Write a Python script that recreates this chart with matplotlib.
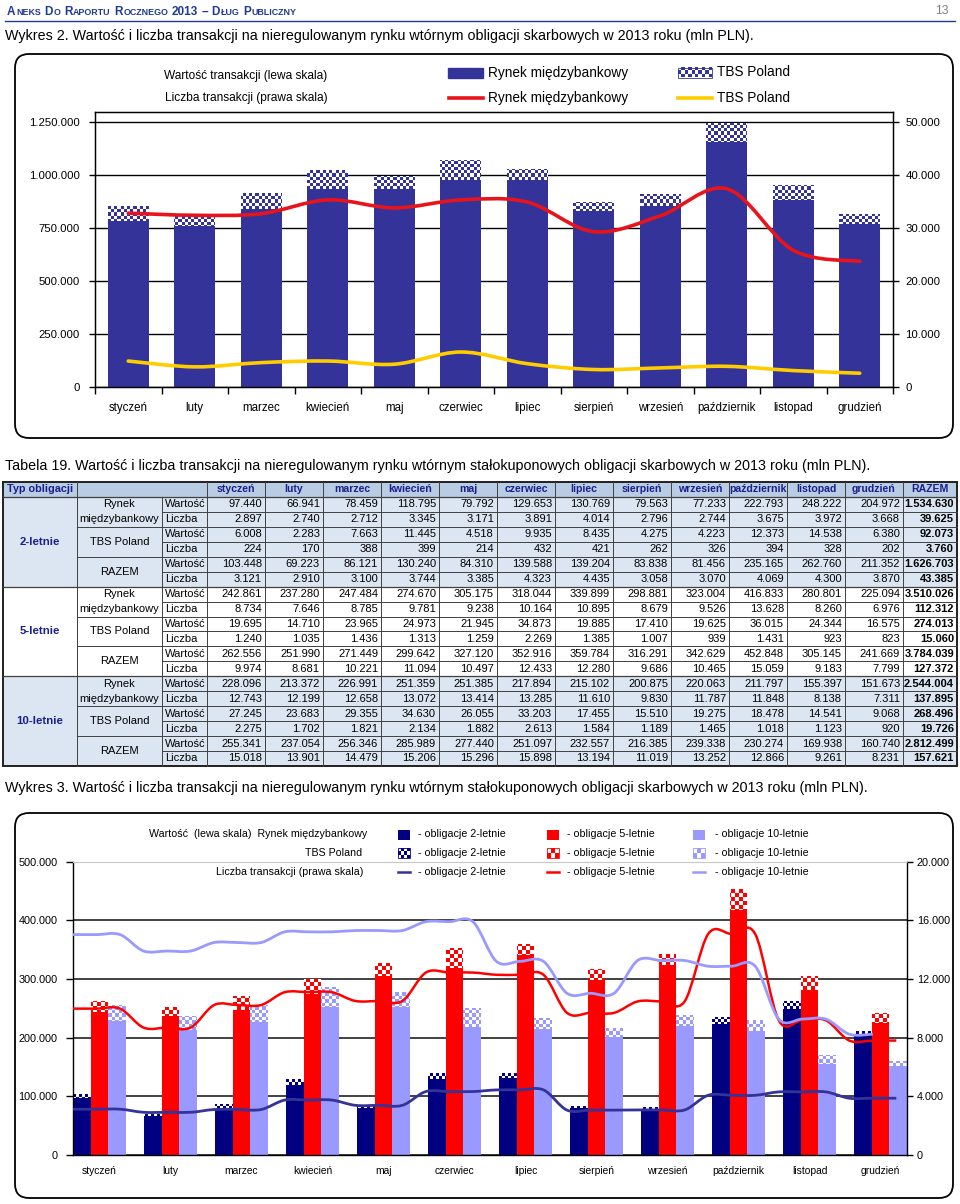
import numpy as np
import matplotlib
matplotlib.use("Agg")
from matplotlib import pyplot as plt
from matplotlib.colors import to_rgb
from matplotlib.patches import Rectangle, FancyBboxPatch, PathPatch
from matplotlib.path import Path
from matplotlib.ticker import FuncFormatter

# --- data -----------------------------------------------------------------
months = ["styczeń", "luty", "marzec", "kwiecień", "maj", "czerwiec", "lipiec",
          "sierpień", "wrzesień", "październik", "listopad", "grudzień"]

# Wykres 2
top_rm = [783000, 759000, 841000, 934000, 934000, 975000, 975000, 829000, 854000, 1154000, 884000, 770000]
top_tbs = [72000, 46000, 73000, 90000, 63000, 96000, 55000, 44000, 55000, 91000, 67000, 48000]
top_rm_cnt = [32800, 32400, 32700, 35300, 33800, 35300, 34900, 29300, 32300, 37400, 25800, 23700]
top_tbs_cnt = [4900, 3800, 4600, 4900, 4300, 6600, 4400, 3300, 3600, 3900, 3100, 2600]

# Tabela 19
rm_w2 = [97440, 66941, 78459, 118795, 79792, 129653, 130769, 79563, 77233, 222793, 248222, 204972]
rm_l2 = [2897, 2740, 2712, 3345, 3171, 3891, 4014, 2796, 2744, 3675, 3972, 3668]
tbs_w2 = [6008, 2283, 7663, 11445, 4518, 9935, 8435, 4275, 4223, 12373, 14538, 6380]
tbs_l2 = [224, 170, 388, 399, 214, 432, 421, 262, 326, 394, 328, 202]
raz_w2 = [103448, 69223, 86121, 130240, 84310, 139588, 139204, 83838, 81456, 235165, 262760, 211352]
raz_l2 = [3121, 2910, 3100, 3744, 3385, 4323, 4435, 3058, 3070, 4069, 4300, 3870]
tot_2 = [1534630, 39625, 92073, 3760, 1626703, 43385]

rm_w5 = [242861, 237280, 247484, 274670, 305175, 318044, 339899, 298881, 323004, 416833, 280801, 225094]
rm_l5 = [8734, 7646, 8785, 9781, 9238, 10164, 10895, 8679, 9526, 13628, 8260, 6976]
tbs_w5 = [19695, 14710, 23965, 24973, 21945, 34873, 19885, 17410, 19625, 36015, 24344, 16575]
tbs_l5 = [1240, 1035, 1436, 1313, 1259, 2269, 1385, 1007, 939, 1431, 923, 823]
raz_w5 = [262556, 251990, 271449, 299642, 327120, 352916, 359784, 316291, 342629, 452848, 305145, 241669]
raz_l5 = [9974, 8681, 10221, 11094, 10497, 12433, 12280, 9686, 10465, 15059, 9183, 7799]
tot_5 = [3510026, 112312, 274013, 15060, 3784039, 127372]

rm_w10 = [228096, 213372, 226991, 251359, 251385, 217894, 215102, 200875, 220063, 211797, 155397, 151673]
rm_l10 = [12743, 12199, 12658, 13072, 13414, 13285, 11610, 9830, 11787, 11848, 8138, 7311]
tbs_w10 = [27245, 23683, 29355, 34630, 26055, 33203, 17455, 15510, 19275, 18478, 14541, 9068]
tbs_l10 = [2275, 1702, 1821, 2134, 1882, 2613, 1584, 1189, 1465, 1018, 1123, 920]
raz_w10 = [255341, 237054, 256346, 285989, 277440, 251097, 232557, 216385, 239338, 230274, 169938, 160740]
raz_l10 = [15018, 13901, 14479, 15206, 15296, 15898, 13194, 11019, 13252, 12866, 9261, 8231]
tot_10 = [2544004, 137895, 268496, 19726, 2812499, 157621]

plt.rcParams["font.family"] = ["Liberation Sans", "DejaVu Sans"]

def thou(v):
    return "{:,}".format(int(round(v))).replace(",", ".")

W, H = 960, 1204
fig = plt.figure(figsize=(W / 100, H / 100), dpi=100)
fig.patch.set_facecolor("white")

page = fig.add_axes([0, 0, 1, 1])
page.axis("off")

def axes_px(l, t, r, b):
    ax = fig.add_axes([l / W, 1 - b / H, (r - l) / W, (b - t) / H])
    ax.patch.set_alpha(0)
    return ax

def smooth(xs, ys, t=1 / 6):
    # Catmull-Rom style smoothing, like the spreadsheet's "smoothed line"
    xs = np.asarray(xs, float)
    ys = np.asarray(ys, float)
    n = len(xs)
    verts = [(xs[0], ys[0])]
    codes = [Path.MOVETO]
    for i in range(n - 1):
        a = max(i - 1, 0)
        d = min(i + 2, n - 1)
        c1 = (xs[i] + (xs[i + 1] - xs[a]) * t, ys[i] + (ys[i + 1] - ys[a]) * t)
        c2 = (xs[i + 1] - (xs[d] - xs[i]) * t, ys[i + 1] - (ys[d] - ys[i]) * t)
        verts += [c1, c2, (xs[i + 1], ys[i + 1])]
        codes += [Path.CURVE4] * 3
    return Path(verts, codes)

def checker(nr, nc, c1, c2):
    a = np.array(to_rgb(c1))
    b = np.array(to_rgb(c2))
    m = (np.indices((nr, nc)).sum(axis=0) % 2)[..., None]
    return np.where(m == 1, a, b)

def fill_checker(ax, bars, c1, c2, cell):
    bb = ax.get_position()
    img = checker(int(bb.height * H / cell), int(bb.width * W / cell), c1, c2)
    im = ax.imshow(img, extent=(0, 1, 0, 1), transform=ax.transAxes,
                   interpolation="nearest", aspect="auto", zorder=2.5)
    path = Path.make_compound_path(*[p.get_path().transformed(p.get_patch_transform()) for p in bars])
    im.set_clip_path(path, ax.transData)

def legend_checker(x, y, w, h, c1, c2, cell):
    img = checker(max(1, int(h / cell)), max(1, int(w / cell)), c1, c2)
    page.imshow(img, extent=(x, x + w, y + h, y), interpolation="nearest", aspect="auto", zorder=3)
    page.add_patch(Rectangle((x, y), w, h, fill=False, ec=c1, lw=0.6, zorder=4))

fmt = FuncFormatter(lambda v, p: thou(v))

# --- page header ----------------------------------------------------------
renderer = fig.canvas.get_renderer()

def smallcaps(x, y, text, big, small, color):
    for word in text.split(" "):
        runs = []
        for ch in word:
            is_big = not (ch.isalpha() and ch.islower())
            if runs and runs[-1][1] == is_big:
                runs[-1][0] += ch
            else:
                runs.append([ch, is_big])
        for run, is_big in runs:
            t = page.text(x, y, run if is_big else run.upper(), fontsize=big if is_big else small,
                          fontweight="bold", color=color, va="baseline", ha="left")
            x += t.get_window_extent(renderer).width + 0.6
        x += big * 0.35

smallcaps(7, 15, "Aneks Do Raportu Rocznego 2013 – Dług Publiczny", 8.5, 6.4, "#1f3a93")
page.plot([5, 955], [20.5, 20.5], color="#1f3a93", lw=1)
page.text(949, 11, "13", fontsize=8.8, color="#808080", ha="right", va="center")

title_fs = 10.3
page.text(5, 36, "Wykres 2. Wartość i liczba transakcji na nieregulowanym rynku wtórnym obligacji skarbowych w 2013 roku (mln PLN).",
          fontsize=title_fs, va="center")
page.text(5, 466, "Tabela 19. Wartość i liczba transakcji na nieregulowanym rynku wtórnym stałokuponowych obligacji skarbowych w 2013 roku (mln PLN).",
          fontsize=title_fs, va="center")
page.text(5, 788, "Wykres 3. Wartość i liczba transakcji na nieregulowanym rynku wtórnym stałokuponowych obligacji skarbowych w 2013 roku (mln PLN).",
          fontsize=title_fs, va="center")

# --- Wykres 2 -------------------------------------------------------------
page.add_patch(FancyBboxPatch((15, 54), 938, 384, boxstyle="round,pad=0,rounding_size=14",
                              fill=False, ec="black", lw=1.3))
page.text(246, 76, "Wartość transakcji (lewa skala)", fontsize=8.6, ha="center", va="center")
page.text(246, 97.5, "Liczba transakcji (prawa skala)", fontsize=8.6, ha="center", va="center")
page.add_patch(Rectangle((448, 67.5), 35, 10, color="#333399"))
legend_checker(678, 67.5, 34, 10, "#333399", "white", 3.3)
page.plot([449, 483], [98, 98], color="#e8141b", lw=2.6)
page.plot([678, 712], [98, 98], color="#ffcc00", lw=2.6)
for yy in (72.5, 98):
    page.text(488, yy, "Rynek międzybankowy", fontsize=9.8, va="center")
    page.text(717, yy, "TBS Poland", fontsize=9.8, va="center")

ax1 = axes_px(95, 112, 893, 387)
x = np.arange(12)
ax1.bar(x, top_rm, 0.62, color="#333399", zorder=2)
hb = ax1.bar(x, top_tbs, 0.62, bottom=top_rm, color="none", lw=0, zorder=2)
fill_checker(ax1, hb.patches, "#333399", "white", 3.2)
ax1.grid(axis="y", color="black", lw=1)
ax1.set_axisbelow(True)
ax1.set_xlim(-0.5, 11.5)
ax1.set_ylim(0, 1250000 * 275 / 265)
ax1.set_yticks(np.arange(0, 1250001, 250000))
ax1.yaxis.set_major_formatter(fmt)
ax1.set_xticks(np.arange(13) - 0.5)
ax1.set_xticklabels([])
ax1.set_xticks(x, minor=True)
ax1.set_xticklabels(months, minor=True)
ax1.tick_params(axis="x", which="major", direction="out", length=5, width=1)
ax1.tick_params(axis="x", which="minor", length=0, pad=11, labelsize=8.3)
ax1.tick_params(axis="y", direction="out", length=4, width=1, pad=7, labelsize=8.2)
for s in ax1.spines.values():
    s.set_color("black")
    s.set_linewidth(1)

ax2 = ax1.twinx()
ax2.patch.set_alpha(0)
ax2.set_ylim(0, 50000 * 275 / 265)
ax2.set_yticks(np.arange(0, 50001, 10000))
ax2.yaxis.set_major_formatter(fmt)
ax2.tick_params(axis="y", direction="out", length=4, width=1, pad=5, labelsize=8.2)
ax2.add_patch(PathPatch(smooth(x, top_rm_cnt), fill=False, ec="#e8141b", lw=2.6, capstyle="round"))
ax2.add_patch(PathPatch(smooth(x, top_tbs_cnt), fill=False, ec="#ffcc00", lw=2.6, capstyle="round"))
ax2.set_xlim(-0.5, 11.5)

# --- Tabela 19 ------------------------------------------------------------
tab_top, hdr_h, row_h = 482, 15, 14.94
edges = [3, 77, 162, 207] + list(np.linspace(207, 903, 13)[1:]) + [957]
nrows = 18
tab_bot = tab_top + hdr_h + nrows * row_h
blue_txt = "#1a1f8c"
tfs = 8

def row_y(r):
    return tab_top + hdr_h + r * row_h

page.add_patch(Rectangle((edges[0], tab_top), edges[-1] - edges[0], hdr_h, color="#b8cce4", lw=0))
groups = [("2-letnie", "#dce6f2", [rm_w2, rm_l2, tbs_w2, tbs_l2, raz_w2, raz_l2], tot_2),
          ("5-letnie", "white", [rm_w5, rm_l5, tbs_w5, tbs_l5, raz_w5, raz_l5], tot_5),
          ("10-letnie", "#dce6f2", [rm_w10, rm_l10, tbs_w10, tbs_l10, raz_w10, raz_l10], tot_10)]

hy = tab_top + hdr_h / 2
page.text((edges[0] + edges[1]) / 2, hy, "Typ obligacji", fontsize=7.8, fontweight="bold", color=blue_txt, ha="center", va="center")
for j, m in enumerate(months + ["RAZEM"]):
    page.text((edges[3 + j] + edges[4 + j]) / 2, hy, m, fontsize=7.6, fontweight="bold", color=blue_txt, ha="center", va="center")

lc = "#404040"
for g, (name, bg, rows, tots) in enumerate(groups):
    r0 = g * 6
    page.add_patch(Rectangle((edges[0], row_y(r0)), edges[-1] - edges[0], 6 * row_h, color=bg, lw=0))
    page.text((edges[0] + edges[1]) / 2, row_y(r0 + 3), name, fontsize=8.2, fontweight="bold", color=blue_txt, ha="center", va="center")
    cx = (edges[1] + edges[2]) / 2
    page.text(cx, row_y(r0) + row_h / 2, "Rynek", fontsize=tfs, ha="center", va="center")
    page.text(cx, row_y(r0 + 1) + row_h / 2, "międzybankowy", fontsize=tfs, ha="center", va="center")
    page.text(cx, row_y(r0 + 3), "TBS Poland", fontsize=tfs, ha="center", va="center")
    page.text(cx, row_y(r0 + 5), "RAZEM", fontsize=tfs, ha="center", va="center")
    for k, vals in enumerate(rows):
        yc = row_y(r0 + k) + row_h / 2
        page.text(edges[2] + 3, yc, "Wartość" if k % 2 == 0 else "Liczba", fontsize=tfs, ha="left", va="center")
        for j, v in enumerate(vals):
            page.text(edges[4 + j] - 3, yc, thou(v), fontsize=tfs, ha="right", va="center")
        page.text(edges[-1] - 3, yc, thou(tots[k]), fontsize=tfs, fontweight="bold", ha="right", va="center")
        # row separators
        if k > 0:
            x0 = edges[2] if k % 2 == 1 else edges[1]
            page.plot([x0, edges[-1]], [row_y(r0 + k)] * 2, color=lc, lw=0.7)
    page.plot([edges[0], edges[-1]], [row_y(r0)] * 2, color=lc, lw=0.9)

for i, ex in enumerate(edges[1:-1], start=1):
    y0 = tab_top + hdr_h if i == 2 else tab_top
    page.plot([ex, ex], [y0, tab_bot], color=lc, lw=0.7)
page.add_patch(Rectangle((edges[0], tab_top), edges[-1] - edges[0], tab_bot - tab_top, fill=False, ec="#202020", lw=1.4))

# --- Wykres 3 -------------------------------------------------------------
page.add_patch(FancyBboxPatch((15, 813), 938, 385, boxstyle="round,pad=0,rounding_size=14",
                              fill=False, ec="black", lw=1.3))
lg = 7.7
page.text(367, 834, "Wartość  (lewa skala)  Rynek międzybankowy", fontsize=lg, ha="right", va="center")
page.text(362, 853, "TBS Poland", fontsize=lg, ha="right", va="center")
page.text(363, 872, "Liczba transakcji (prawa skala)", fontsize=lg, ha="right", va="center")
for lx, tx, col, lab, cell in [(398, 418, "#000080", "- obligacje 2-letnie", 3),
                               (547, 567, "#ff0000", "- obligacje 5-letnie", 4),
                               (693, 715, "#9999ff", "- obligacje 10-letnie", 3.5)]:
    page.add_patch(Rectangle((lx, 829.5), 12, 10, color=col, lw=0))
    legend_checker(lx, 848, 12, 10, col, "white", cell)
    page.plot([lx, lx + 12], [872, 872], color="#333399" if col == "#000080" else col, lw=1.8)
    for yy in (834, 853, 872):
        page.text(tx, yy, lab, fontsize=lg, ha="left", va="center")

ax3 = axes_px(73, 861.5, 907, 1155)
bw = 0.74 / 3
ax3.bar(x - bw, rm_w2, bw, color="#000080", zorder=2)
h2 = ax3.bar(x - bw, tbs_w2, bw, bottom=rm_w2, color="none", lw=0, zorder=2)
ax3.bar(x, rm_w5, bw, color="#ff0000", zorder=2)
h5 = ax3.bar(x, tbs_w5, bw, bottom=rm_w5, color="none", lw=0, zorder=2)
ax3.bar(x + bw, rm_w10, bw, color="#9999ff", zorder=2)
h10 = ax3.bar(x + bw, tbs_w10, bw, bottom=rm_w10, color="none", lw=0, zorder=2)
fill_checker(ax3, h2.patches, "#000080", "white", 3)
fill_checker(ax3, h5.patches, "#ff0000", "white", 4)
fill_checker(ax3, h10.patches, "#9999ff", "white", 3.5)
ax3.grid(axis="y", color="#333333", lw=1.3)
ax3.set_axisbelow(True)
ax3.set_xlim(-0.37, 11.37)
ax3.set_ylim(0, 500000)
ax3.set_yticks(np.arange(0, 500001, 100000))
ax3.yaxis.set_major_formatter(fmt)
ax3.set_xticks(x)
ax3.set_xticklabels(months)
ax3.tick_params(axis="x", length=0, pad=8, labelsize=7.4)
ax3.tick_params(axis="y", direction="out", length=5, width=1, pad=6, labelsize=7.8)
for s in ax3.spines.values():
    s.set_color("black")
    s.set_linewidth(1)
ax3.spines["top"].set_color("#c8c8c8")
ax3.spines["top"].set_linewidth(0.8)

ax4 = ax3.twinx()
ax4.patch.set_alpha(0)
ax4.set_ylim(0, 20000)
ax4.set_yticks(np.arange(0, 20001, 4000))
ax4.yaxis.set_major_formatter(fmt)
ax4.tick_params(axis="y", direction="out", length=4, width=1, pad=3, labelsize=7.8)
for s in ax4.spines.values():
    s.set_visible(False)
xs = np.linspace(-0.37, 11.22, 36)
ax4.add_patch(PathPatch(smooth(xs, np.repeat(raz_l2, 3)), fill=False, ec="#333399", lw=2))
ax4.add_patch(PathPatch(smooth(xs, np.repeat(raz_l5, 3)), fill=False, ec="#ff0000", lw=1.8))
ax4.add_patch(PathPatch(smooth(xs[:-1], np.repeat(raz_l10, 3)[:-1]), fill=False, ec="#9999ff", lw=2))
ax4.set_xlim(-0.37, 11.37)

page.set_xlim(0, W)
page.set_ylim(H, 0)

fig.savefig("out.png", dpi=100, facecolor="white")
